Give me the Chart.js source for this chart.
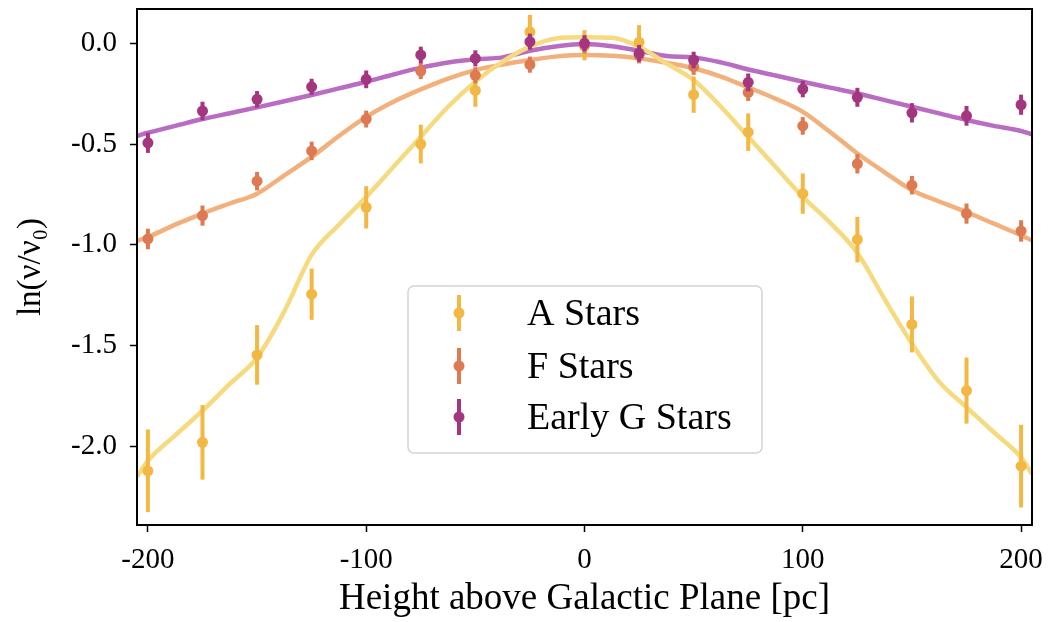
<!DOCTYPE html>
<html>
<head>
<meta charset="utf-8">
<script src="https://cdn.jsdelivr.net/npm/chart.js@4/dist/chart.umd.min.js"></script>
<style>
  html, body { margin: 0; padding: 0; background: #fff; }
  #wrap { width: 1051px; height: 622px; }
</style>
</head>
<body>
<div id="wrap"><canvas id="c" width="1051" height="622"></canvas></div>
<script>
// measured bins (pc)
const heights = [-200, -175, -150, -125, -100, -75, -50, -25, 0, 25, 50, 75, 100, 125, 150, 175, 200];

const aStars = [-2.121, -1.98, -1.546, -1.245, -0.814, -0.50, -0.234, 0.056, -0.01, 0.005, -0.255, -0.441, -0.746, -0.974, -1.395, -1.723, -2.098];
const aErr   = [0.205, 0.185, 0.148, 0.127, 0.105, 0.096, 0.081, 0.085, 0.075, 0.085, 0.09, 0.093, 0.1, 0.113, 0.139, 0.164, 0.205];

const fStars = [-0.971, -0.855, -0.684, -0.534, -0.376, -0.138, -0.159, -0.106, -0.01, -0.06, -0.116, -0.244, -0.41, -0.598, -0.704, -0.845, -0.931];
const fErr   = [0.051, 0.05, 0.046, 0.046, 0.042, 0.04, 0.04, 0.04, 0.04, 0.04, 0.041, 0.042, 0.044, 0.048, 0.046, 0.05, 0.053];

const gStars = [-0.494, -0.336, -0.278, -0.216, -0.179, -0.058, -0.075, 0.008, 0.0, -0.05, -0.083, -0.194, -0.227, -0.268, -0.345, -0.36, -0.305];
const gErr   = [0.05, 0.046, 0.041, 0.04, 0.044, 0.041, 0.04, 0.04, 0.04, 0.042, 0.041, 0.044, 0.041, 0.047, 0.048, 0.049, 0.05];

// model curves
const curveX = [-205, -200, -187.5, -175, -162.5, -150, -137.5, -125, -112.5, -100, -87.5, -75, -62.5, -50, -37.5, -25, -12.5, 0,
                12.5, 25, 37.5, 50, 62.5, 75, 87.5, 100, 112.5, 125, 137.5, 150, 162.5, 175, 187.5, 200, 205];
const aFit = [-2.15, -2.071, -1.945, -1.823, -1.69, -1.56, -1.33, -1.05, -0.90, -0.762, -0.613, -0.464, -0.315, -0.191, -0.091, -0.017, 0.025, 0.03,
              0.027, -0.017, -0.1, -0.182, -0.315, -0.464, -0.613, -0.762, -0.89, -1.04, -1.27, -1.49, -1.68, -1.806, -1.93, -2.055, -2.137];
const fFit = [-0.98, -0.961, -0.90, -0.845, -0.795, -0.746, -0.655, -0.564, -0.46, -0.365, -0.29, -0.229, -0.175, -0.133, -0.105, -0.083, -0.065, -0.058,
              -0.062, -0.075, -0.097, -0.124, -0.165, -0.219, -0.275, -0.34, -0.44, -0.547, -0.64, -0.729, -0.785, -0.837, -0.895, -0.953, -0.978];
const gFit = [-0.46, -0.444, -0.41, -0.376, -0.347, -0.318, -0.288, -0.257, -0.224, -0.191, -0.155, -0.121, -0.095, -0.08, -0.07, -0.037, -0.015, -0.004,
              -0.015, -0.037, -0.063, -0.07, -0.095, -0.13, -0.16, -0.191, -0.22, -0.249, -0.282, -0.315, -0.348, -0.381, -0.41, -0.435, -0.452];

const xTicks = [-200, -100, 0, 100, 200];
const yTicks = [0, -0.5, -1.0, -1.5, -2.0];

const serif = '"Liberation Serif", "DejaVu Serif", serif';

const pts = (ys) => ys.map((y, i) => ({ x: heights[i], y }));
const crv = (ys) => ys.map((y, i) => ({ x: curveX[i], y }));

function fitLine(data, color) {
    return {
        data: crv(data),
        showLine: true,
        borderColor: color,
        borderWidth: 4.5,
        pointRadius: 0,
        cubicInterpolationMode: 'monotone',
        order: 10
    };
}

function pointSet(label, data, err, color, order) {
    return {
        label,
        data: pts(data),
        errors: err,
        backgroundColor: color,
        borderColor: color,
        borderWidth: 0,
        pointRadius: 5.5,
        showLine: false,
        order
    };
}

// vertical error bars, drawn just before each point dataset
const errorBars = {
    id: 'errorBars',
    beforeDatasetDraw(chart, args) {
        const ds = chart.data.datasets[args.index];
        if (!ds.errors) return;
        const y = chart.scales.y;
        const ctx = chart.ctx;
        ctx.save();
        ctx.strokeStyle = ds.borderColor;
        ctx.lineWidth = 4;
        args.meta.data.forEach((el, i) => {
            const v = ds.data[i].y, e = ds.errors[i];
            ctx.beginPath();
            ctx.moveTo(el.x, y.getPixelForValue(v + e));
            ctx.lineTo(el.x, y.getPixelForValue(v - e));
            ctx.stroke();
        });
        ctx.restore();
    }
};

// full black frame + in-plot legend
const frameAndLegend = {
    id: 'frameAndLegend',
    afterDraw(chart) {
        const { ctx, chartArea: a } = chart;
        ctx.save();
        ctx.strokeStyle = '#000';
        ctx.lineWidth = 2;
        ctx.strokeRect(a.left, a.top, a.right - a.left, a.bottom - a.top);

        // legend box
        const bx = 408, by = 286, bw = 354, bh = 167, r = 6;
        ctx.beginPath();
        ctx.roundRect(bx, by, bw, bh, r);
        ctx.fillStyle = 'rgba(255,255,255,0.8)';
        ctx.fill();
        ctx.strokeStyle = '#d4d4d4';
        ctx.lineWidth = 1.5;
        ctx.stroke();

        const items = chart.data.datasets.filter(d => d.errors);
        const rows = [313, 366, 417];
        ctx.font = '38px ' + serif;
        ctx.textBaseline = 'middle';
        ctx.textAlign = 'left';
        items.forEach((d, i) => {
            const cy = rows[i];
            ctx.strokeStyle = d.borderColor;
            ctx.lineWidth = 4;
            ctx.beginPath();
            ctx.moveTo(459, cy - 18);
            ctx.lineTo(459, cy + 18);
            ctx.stroke();
            ctx.fillStyle = d.backgroundColor;
            ctx.beginPath();
            ctx.arc(459, cy, 5.5, 0, Math.PI * 2);
            ctx.fill();
            ctx.fillStyle = '#000';
            ctx.fillText(d.label, 527, cy + 2);
        });
        ctx.restore();
    }
};

new Chart(document.getElementById('c'), {
    type: 'scatter',
    data: {
        datasets: [
            fitLine(aFit, '#f6da7f'),
            fitLine(fFit, '#f2b07c'),
            fitLine(gFit, '#b96dc2'),
            pointSet('A Stars', aStars, aErr, '#f2b843', 3),
            pointSet('F Stars', fStars, fErr, '#de7a52', 2),
            pointSet('Early G Stars', gStars, gErr, '#a3367f', 1)
        ]
    },
    options: {
        responsive: false,
        animation: false,
        layout: { padding: { top: 9, right: 19, left: 0, bottom: 0 } },
        plugins: {
            legend: { display: false },
            tooltip: { enabled: false }
        },
        scales: {
            x: {
                type: 'linear',
                min: -205,
                max: 205,
                afterBuildTicks: (s) => { s.ticks = xTicks.map(v => ({ value: v })); },
                afterFit: (s) => { s.height = 97; s.paddingLeft = 0; s.paddingRight = 0; },
                grid: { display: true, drawOnChartArea: false, drawTicks: true, tickLength: 7, tickWidth: 1.5, color: '#000' },
                border: { display: false },
                ticks: {
                    color: '#000',
                    padding: 11,
                    maxRotation: 0,
                    font: { family: serif, size: 29 },
                    callback: (v) => String(v)
                },
                title: {
                    display: true,
                    text: 'Height above Galactic Plane [pc]',
                    color: '#000',
                    font: { family: serif, size: 37, lineHeight: 1.2 },
                    padding: { top: 0, bottom: 1 }
                }
            },
            y: {
                type: 'linear',
                min: -2.39,
                max: 0.17,
                afterBuildTicks: (s) => { s.ticks = yTicks.map(v => ({ value: v })); },
                afterFit: (s) => { s.width = 137; s.paddingTop = 0; s.paddingBottom = 0; },
                grid: { display: true, drawOnChartArea: false, drawTicks: true, tickLength: 7, tickWidth: 1.5, color: '#000' },
                border: { display: false },
                ticks: {
                    color: '#000',
                    padding: 13,
                    font: { family: serif, size: 29 },
                    callback: (v) => v.toFixed(1)
                },
                title: {
                    display: true,
                    text: 'ln(ν/ν₀)',
                    color: '#000',
                    font: { family: serif, size: 33, lineHeight: 1.2 },
                    padding: { top: 12, bottom: 0 }
                }
            }
        }
    },
    plugins: [errorBars, frameAndLegend]
});
</script>
</body>
</html>
